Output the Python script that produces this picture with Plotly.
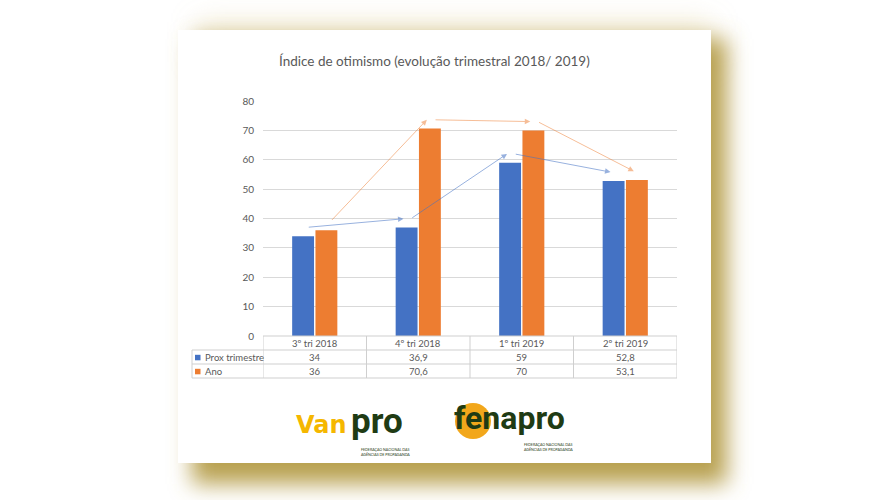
import base64
import plotly.graph_objects as go

# ---------------- data ----------------
categories = ["3º tri 2018", "4º tri 2018", "1º tri 2019", "2º tri 2019"]
prox_trimestre = [34, 36.9, 59, 52.8]
ano = [36, 70.6, 70, 53.1]
series_names = ["Prox trimestre", "Ano"]
y_ticks = [0, 10, 20, 30, 40, 50, 60, 70, 80]
title_text = "Índice de otimismo (evolução trimestral 2018/ 2019)"
logo_small = "FEDERAÇÃO NACIONAL DAS<br>AGÊNCIAS DE PROPAGANDA"

# ---------------- geometry helpers (pixels -> paper) ----------------
W_FIG, H_FIG = 890, 500
L, R = 263, 677          # plot area left/right in px
T, B = 101, 336          # plot area top/bottom in px
PW, PH = R - L, B - T


def px(X):
    return (X - L) / PW


def py(Y):
    return (B - Y) / PH


BLUE = "#4472C4"
ORANGE = "#ED7D31"
GRID = "#D9D9D9"
TXT = "#595959"
FONT = "Lato, 'Open Sans', sans-serif"
LOGO = "Roboto, 'Liberation Sans', sans-serif"
DKGREEN = "#1F3B14"

x_idx = list(range(len(categories)))

fig = go.Figure()
fig.add_trace(go.Bar(x=x_idx, y=prox_trimestre, name=series_names[0],
                     marker=dict(color=BLUE, line=dict(width=0))))
fig.add_trace(go.Bar(x=x_idx, y=ano, name=series_names[1],
                     marker=dict(color=ORANGE, line=dict(width=0))))

shapes = []
annotations = []


def text(t, X, Y, size, color=TXT, family=FONT, xa="center", ya="middle", xref="paper", **kw):
    annotations.append(dict(text=t, xref=xref, yref="paper",
                            x=X if xref != "paper" else px(X), y=py(Y),
                            xanchor=xa, yanchor=ya, showarrow=False,
                            font=dict(family=family, size=size, color=color), **kw))


# ---------------- page + soft (blurred) shadow ----------------
pl, pt, pr, pb = 178, 30, 711, 463
svg = (
    f"<svg xmlns='http://www.w3.org/2000/svg' width='{W_FIG}' height='{H_FIG}'>"
    "<defs><filter id='b' x='-30%' y='-30%' width='160%' height='160%'>"
    "<feGaussianBlur stdDeviation='11'/></filter>"
    "<filter id='c' x='-30%' y='-80%' width='160%' height='260%'>"
    "<feGaussianBlur stdDeviation='14'/></filter></defs>"
    f"<rect x='{pl + 20}' y='{pt - 8}' width='{pr - pl - 20}' height='40' "
    "fill='#D8C78A' fill-opacity='0.35' filter='url(#c)'/>"
    f"<rect x='{pl + 14}' y='{pt + 9}' width='{pr - pl + 2}' height='{pb - pt + 12}' "
    "fill='#B8A050' filter='url(#b)'/></svg>"
)
shadow_src = "data:image/svg+xml;base64," + base64.b64encode(svg.encode()).decode()
images = [dict(source=shadow_src, xref="paper", yref="paper", x=px(0), y=py(0),
               sizex=W_FIG / PW, sizey=H_FIG / PH, sizing="stretch",
               xanchor="left", yanchor="top", layer="below")]
shapes.append(dict(type="rect", xref="paper", yref="paper", layer="below",
                   x0=px(pl), x1=px(pr), y0=py(pb), y1=py(pt),
                   fillcolor="white", line=dict(width=0)))

# ---------------- title ----------------
text(title_text, 434, 61, 13.5)

# ---------------- trend arrows (above the bars) ----------------
slot = (1 - 0.55) / 2
off_blue = -slot / 2
off_orange = slot / 2
lift = 3
for vals, off, col in [(prox_trimestre, off_blue, "rgba(68,114,196,0.55)"),
                       (ano, off_orange, "rgba(237,125,49,0.5)")]:
    for i in range(len(vals) - 1):
        annotations.append(dict(
            x=x_idx[i + 1] + off - 0.03, y=vals[i + 1] + lift,
            ax=x_idx[i] + off + 0.04, ay=vals[i] + lift,
            xref="x", yref="y", axref="x", ayref="y",
            text="", showarrow=True, arrowhead=2, arrowsize=1.1,
            arrowwidth=1, arrowcolor=col, standoff=0, startstandoff=0))

# ---------------- data table ----------------
row_bot = 378
leg_left = 192
line_col = "#CFCFCF"
shapes.append(dict(type="line", xref="x", yref="paper", x0=-0.5, x1=3.5,
                   y0=py(336), y1=py(336), line=dict(color=line_col, width=1)))
for Y in [350, 364, 378]:
    shapes.append(dict(type="line", xref="paper", yref="paper", x0=px(leg_left), x1=1,
                       y0=py(Y), y1=py(Y), line=dict(color=line_col, width=1)))
for xb in [-0.5, 0.5, 1.5, 2.5, 3.5]:
    shapes.append(dict(type="line", xref="x", yref="paper", x0=xb, x1=xb,
                       y0=py(336), y1=py(row_bot), line=dict(color=line_col, width=1)))
shapes.append(dict(type="line", xref="paper", yref="paper", x0=px(leg_left), x1=px(leg_left),
                   y0=py(350), y1=py(row_bot), line=dict(color=line_col, width=1)))

TFS = 9.5
for i, c in enumerate(categories):
    text(c, x_idx[i], 343.5, TFS, xref="x")


def fmt(v):
    return f"{v:g}".replace(".", ",")


for r, (vals, col, nm) in enumerate([(prox_trimestre, BLUE, series_names[0]),
                                     (ano, ORANGE, series_names[1])]):
    yc = 357.5 + 14 * r
    for i, v in enumerate(vals):
        text(fmt(v), x_idx[i], yc, TFS, xref="x")
    shapes.append(dict(type="rect", xref="paper", yref="paper",
                       x0=px(195), x1=px(200.5), y0=py(yc + 2.8), y1=py(yc - 2.7),
                       fillcolor=col, line=dict(width=0)))
    text(nm, 203, yc, TFS, xa="left")

# ---------------- logos ----------------
# Vanpro
text("<b>Van</b>", 349, 441, 24, color="#F5B700",
     family="'DejaVu Sans', Verdana, sans-serif", xa="right", ya="bottom")
text("<b>pro</b>", 349, 444, 35, color=DKGREEN, family=LOGO, xa="left", ya="bottom")
text(logo_small, 359, 445, 3.6, color=DKGREEN, xa="left", ya="top", align="left")
# Fenapro
shapes.append(dict(type="circle", xref="paper", yref="paper",
                   x0=px(455), x1=px(491), y0=py(439), y1=py(403),
                   fillcolor="#F2A71B", line=dict(width=0)))
text("<b>fenapro</b>", 452, 439, 32, color=DKGREEN, family=LOGO, xa="left", ya="bottom")
text(logo_small, 522, 440, 3.6, color=DKGREEN, xa="left", ya="top", align="left")

fig.update_layout(
    width=W_FIG, height=H_FIG, autosize=False,
    margin=dict(l=L, r=W_FIG - R, t=T, b=H_FIG - B, pad=0),
    paper_bgcolor="white", plot_bgcolor="rgba(0,0,0,0)",
    barmode="group", bargap=0.55, bargroupgap=0.06,
    showlegend=False,
    shapes=shapes, annotations=annotations, images=images,
    xaxis=dict(range=[-0.5, 3.5], showticklabels=False, showgrid=False,
               zeroline=False, showline=False, fixedrange=True),
    yaxis=dict(range=[0, 80], tickvals=y_ticks, showgrid=True, gridcolor=GRID, gridwidth=1,
               zeroline=False, showline=False, ticks="", ticklabelstandoff=8,
               tickfont=dict(family=FONT, size=10, color=TXT), fixedrange=True),
)

fig.write_html("out.html")
